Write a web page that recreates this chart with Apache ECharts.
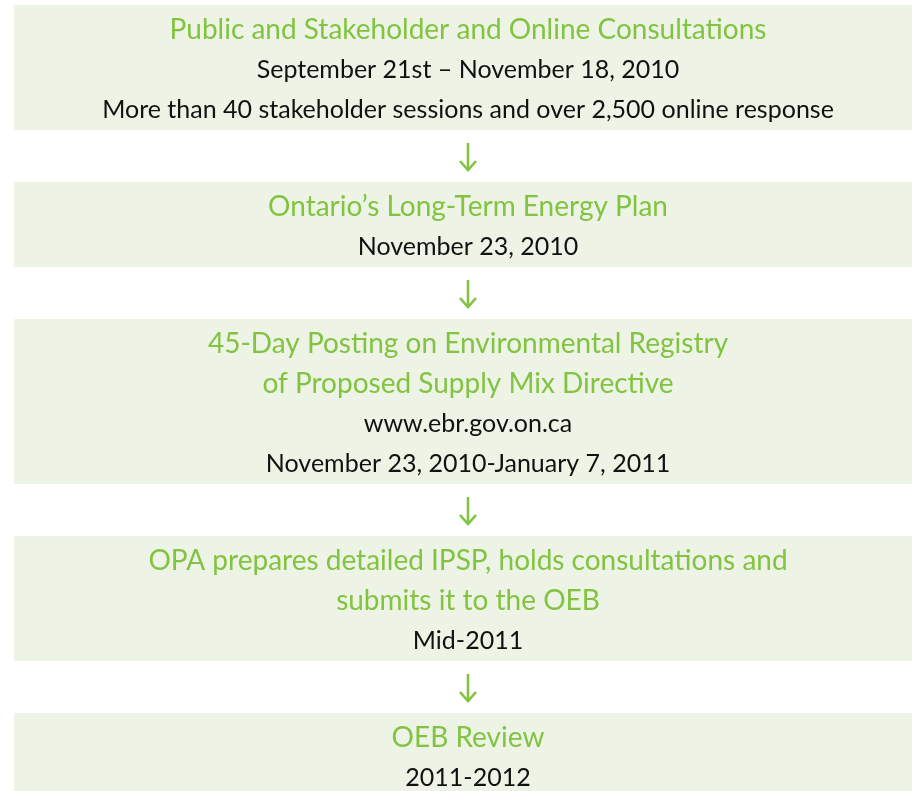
<!DOCTYPE html>
<html>
<head>
<meta charset="utf-8">
<script src="https://cdn.jsdelivr.net/npm/echarts@6/dist/echarts.min.js"></script>
<style>
  html, body { margin: 0; padding: 0; background: #fff; }
  #chart { width: 912px; height: 791px; }
</style>
</head>
<body>
<div id="chart"></div>
<script>
// steps of the process, top to bottom
const titles = [
  ["Public and Stakeholder and Online Consultations"],
  ["Ontario\u2019s Long-Term Energy Plan"],
  ["45-Day Posting on Environmental Registry", "of Proposed Supply Mix Directive"],
  ["OPA prepares detailed IPSP, holds consultations and", "submits it to the OEB"],
  ["OEB Review"]
];
const details = [
  ["September 21st \u2013 November 18, 2010", "More than 40 stakeholder sessions and over 2,500 online response"],
  ["November 23, 2010"],
  ["www.ebr.gov.on.ca", "November 23, 2010-January 7, 2011"],
  ["Mid-2011"],
  ["2011-2012"]
];

const GREEN = "#82c341";
const BOX = "#edf4e5";
const FONT = "Lato, 'Open Sans', sans-serif";

const LINE = 40, PAD_TOP = 25, PAD_BOT = 20, GAP = 52, TOP = 5;
const BOX_LEFT = 14, TEXT_X = 468;

// box extents derived from how many lines each step holds
const boxes = [];
let y = TOP;
titles.forEach((t, i) => {
  const n = t.length + details[i].length;
  const h = PAD_TOP + PAD_BOT + LINE * (n - 1);
  boxes.push({ top: y, height: h });
  y += h + GAP;
});

const chart = echarts.init(document.getElementById("chart"), null, { renderer: "canvas" });

chart.setOption({
  animation: false,
  grid: { left: 0, right: 0, top: 0, bottom: 0 },
  xAxis: { type: "value", min: 0, max: 912, show: false },
  yAxis: { type: "value", min: 0, max: 791, inverse: true, show: false },
  series: [{
    type: "custom",
    coordinateSystem: "cartesian2d",
    data: titles.map((t, i) => [i]),
    clip: false,
    renderItem: (params, api) => {
      const i = api.value(0);
      const b = boxes[i];
      const tl = api.coord([BOX_LEFT, b.top]);
      const br = api.coord([912, b.top + b.height]);
      const cx = api.coord([TEXT_X, 0])[0];
      const children = [{
        type: "rect",
        shape: { x: tl[0], y: tl[1], width: br[0] - tl[0], height: br[1] - tl[1] },
        style: { fill: BOX }
      }];
      const lines = titles[i].map(s => ({ s, title: true }))
        .concat(details[i].map(s => ({ s, title: false })));
      lines.forEach((l, k) => {
        const ly = api.coord([0, b.top + PAD_TOP + LINE * k])[1];
        children.push({
          type: "text",
          x: cx, y: ly,
          style: {
            text: l.s,
            fill: l.title ? GREEN : "#111",
            font: (l.title ? "28px " : "25px ") + FONT,
            align: "center",
            verticalAlign: "middle"
          }
        });
      });
      // arrow down to the next step
      if (i < titles.length - 1) {
        const a0 = api.coord([TEXT_X, b.top + b.height + 13])[1];
        const a1 = api.coord([TEXT_X, b.top + b.height + 40])[1];
        children.push({
          type: "line",
          shape: { x1: cx, y1: a0, x2: cx, y2: a1 - 1 },
          style: { stroke: GREEN, lineWidth: 2.6 }
        });
        children.push({
          type: "polyline",
          shape: { points: [[cx - 8, a1 - 9], [cx, a1], [cx + 8, a1 - 9]] },
          style: { stroke: GREEN, lineWidth: 2.6, fill: null }
        });
      }
      return { type: "group", children };
    }
  }]
});

window.addEventListener("resize", () => chart.resize());
</script>
</body>
</html>
